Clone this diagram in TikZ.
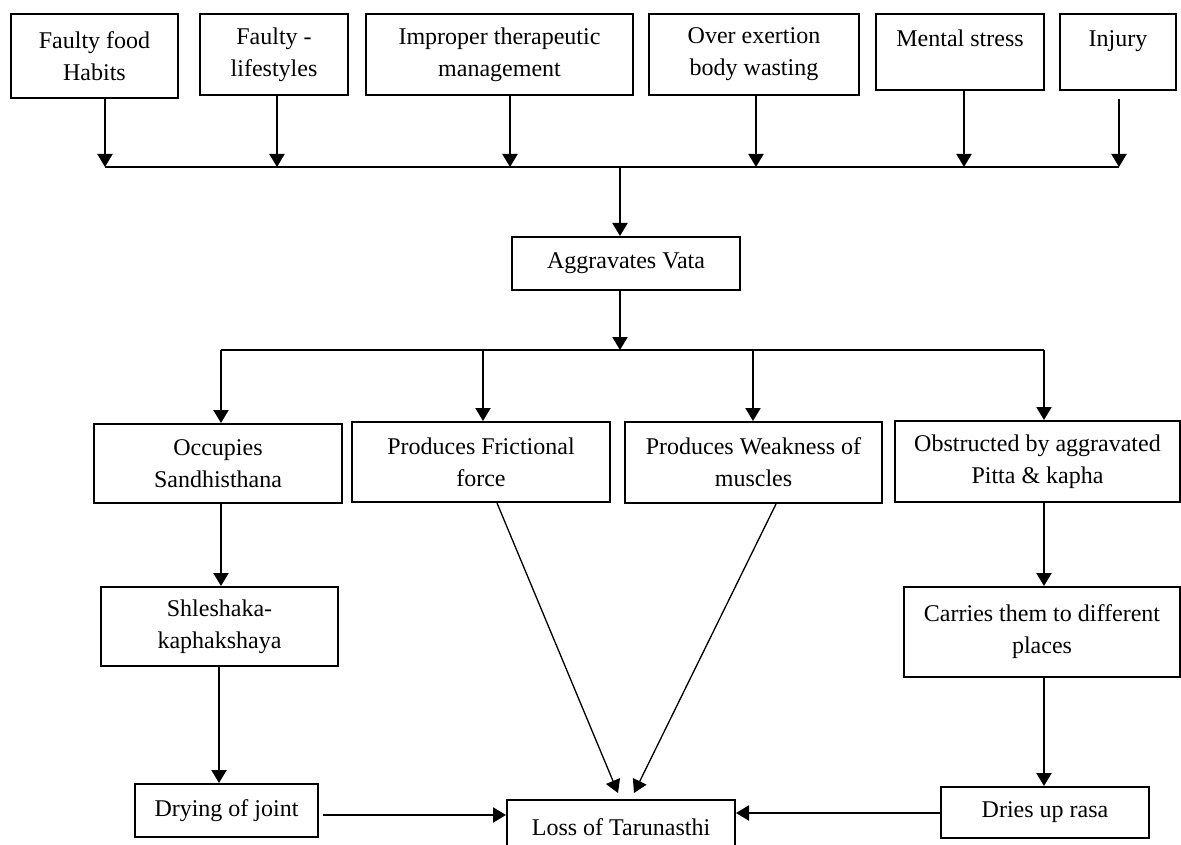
\documentclass[tikz,border=0pt]{standalone}
\usepackage{fontspec}
\setmainfont{Liberation Serif}
\usetikzlibrary{arrows.meta}
\newcommand\boxfont{\fontsize{24}{32}\selectfont}
\begin{document}
\begin{tikzpicture}[x=1pt,y=-1pt,
  box/.style={draw, line width=2pt, inner sep=0pt, align=center, font=\boxfont},
  arr/.style={line width=2pt, -{Triangle[length=13pt,width=15pt]}},
  thinarr/.style={line width=1.3pt, -{Triangle[length=13pt,width=15pt]}},
  bus/.style={line width=2pt}]
\useasboundingbox (0,0) rectangle (1181,845);
% top row
\node[box, minimum width=167, minimum height=84] (ffh) at (94.5,56) {Faulty food\\Habits};
\node[box, minimum width=148, minimum height=81] (fls) at (274,54.5) {Faulty -\\lifestyles};
\node[box, minimum width=267, minimum height=81] (itm) at (499.5,54.5) {Improper therapeutic\\management};
\node[box, minimum width=210, minimum height=81] (oeb) at (754,54.5) {Over exertion\\body wasting};
\node[box, minimum width=168, minimum height=76] (mst) at (960,52) {Mental stress\\[-10pt]\vphantom{y}};
\node[box, minimum width=116, minimum height=76] (inj) at (1118,52) {Injury\\[-10pt]\vphantom{y}};
% bus 1
\coordinate (b1) at (105,167);
\coordinate (b2) at (277,167);
\coordinate (b3) at (510,167);
\coordinate (b4) at (756,167);
\coordinate (b5) at (964,167);
\coordinate (b6) at (1119,167);
\coordinate (bd) at (620,167);
\draw[arr] (ffh.south -| b1) -- (b1);
\draw[arr] (fls.south -| b2) -- (b2);
\draw[arr] (itm.south -| b3) -- (b3);
\draw[arr] (oeb.south -| b4) -- (b4);
\draw[arr] (mst.south -| b5) -- (b5);
\draw[arr] ([yshift=-8pt]inj.south -| b6) -- (b6);
\draw[bus] (b1) -- (b6);
% aggravates
\node[box, minimum width=228, minimum height=53] (agg) at (626,263.5) {Aggravates Vata};
\draw[arr] (bd) -- (agg.north -| bd);
\coordinate (cd) at (620,350);
\draw[arr] (agg.south -| cd) -- (cd);
% bus 2
\coordinate (c1) at (221,350);
\coordinate (c2) at (483,350);
\coordinate (c3) at (753,350);
\coordinate (c4) at (1044,350);
\draw[bus] (c1) -- (c4);
% row 3
\node[box, minimum width=248, minimum height=79] (occ) at (218,463.5) {Occupies\\Sandhisthana};
\node[box, minimum width=258, minimum height=80] (fric) at (481,462) {Produces Frictional\\force};
\node[box, minimum width=257, minimum height=81] (weak) at (753.5,462.5) {Produces Weakness of\\muscles};
\node[box, minimum width=285, minimum height=81] (obs) at (1037.5,461.5) {Obstructed by aggravated\\Pitta \& kapha};
\draw[arr] (c1) -- (occ.north -| c1);
\draw[arr] (c2) -- (fric.north -| c2);
\draw[arr] (c3) -- (weak.north -| c3);
\draw[arr] (c4) -- (obs.north -| c4);
% left column
\node[box, minimum width=237, minimum height=79] (shl) at (219.5,626.5) {Shleshaka-\\kaphakshaya};
\node[box, minimum width=183, minimum height=53] (dry) at (226.5,810.5) {Drying of joint};
\coordinate (l1) at (221,0);
\coordinate (l2) at (219,0);
\draw[arr] (occ.south -| l1) -- (shl.north -| l1);
\draw[arr] (shl.south -| l2) -- (dry.north -| l2);
% right column
\node[box, minimum width=276, minimum height=90] (car) at (1042,632) {Carries them to different\\places};
\node[box, minimum width=208, minimum height=51] (dri) at (1045,812.5) {Dries up rasa};
\draw[arr] (obs.south -| c4) -- (car.north -| c4);
\draw[arr] (car.south -| c4) -- (dri.north -| c4);
% bottom
\node[box, minimum width=228, minimum height=54, anchor=north] (loss) at (621,799) {Loss of Tarunasthi};
\coordinate (dl) at (323,815);
\draw[arr] (dl) -- (dl -| loss.west);
\coordinate (dr) at (941,813);
\draw[arr] (dr) -- (dr -| loss.east);
\coordinate (f0) at (497,0);
\coordinate (w0) at (776,0);
\coordinate (ft) at (618,793);
\coordinate (wt) at (634,793);
\draw[thinarr] (fric.south -| f0) -- (ft);
\draw[thinarr] (weak.south -| w0) -- (wt);
\end{tikzpicture}
\end{document}
